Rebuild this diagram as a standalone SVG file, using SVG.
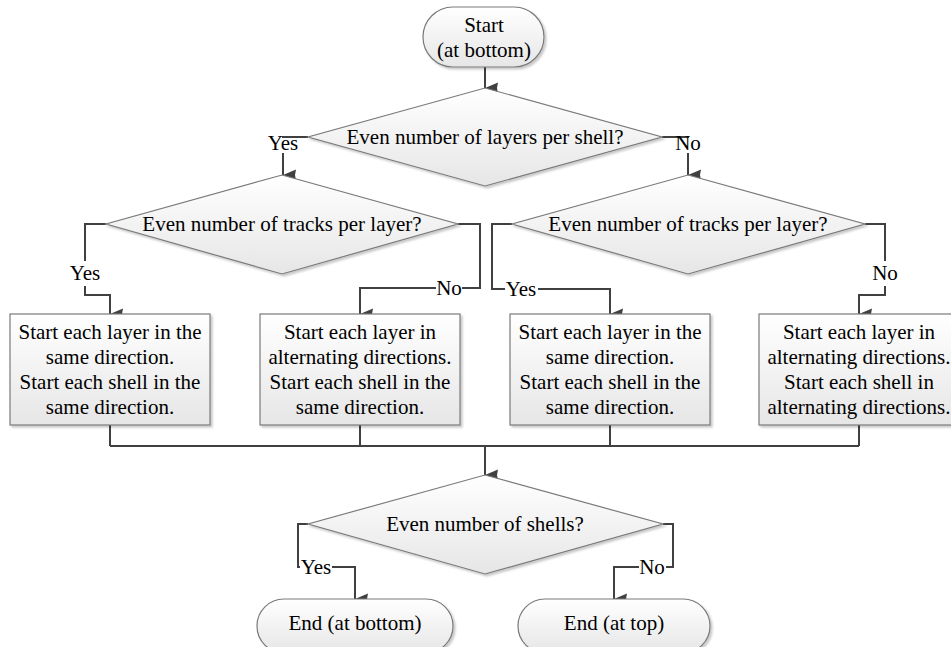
<svg xmlns="http://www.w3.org/2000/svg" width="951" height="647" viewBox="0 0 951 647">
<defs>
<linearGradient id="g" x1="0" y1="0" x2="0" y2="1">
<stop offset="0" stop-color="#ffffff"/>
<stop offset="1" stop-color="#e6e6e6"/>
</linearGradient>
<filter id="sh" x="-5%" y="-5%" width="115%" height="120%">
<feDropShadow dx="2" dy="2" stdDeviation="1.2" flood-color="#000" flood-opacity="0.22"/>
</filter>
<marker id="ah" markerUnits="userSpaceOnUse" markerWidth="12" markerHeight="14" refX="6" refY="13" orient="auto-start-reverse" viewBox="0 0 12 14">
<path d="M0.5,0 L6,13 L11.5,0 L6,1 Z" fill="#404040"/>
</marker>
</defs>
<style>
.s{fill:url(#g);stroke:#7a7a7a;stroke-width:1.2;filter:url(#sh)}
.t{font-family:'Liberation Serif','Times New Roman',serif;font-size:21px;fill:#000;text-anchor:middle}
.c{fill:none;stroke:#404040;stroke-width:2}
.a{marker-end:url(#ah)}
.lb{fill:#fff}
</style>
<rect width="951" height="647" fill="#fff"/>

<g id="connectors">
<path class="c a" d="M485,67 V88"/>
<path class="c a" d="M308,137 H283 V175"/>
<path class="c a" d="M662,137 H688 V175"/>
<path class="c a" d="M106,224 H85 V295 H110 V314"/>
<path class="c a" d="M458,224 H480 V288 H360 V314"/>
<path class="c a" d="M512,224 H492 V289 H610 V314"/>
<path class="c a" d="M865,224 H885 V295 H859 V314"/>
<path class="c" d="M110,425 V446 M360,425 V446 M610,425 V446 M859,425 V446 M110,446 H859"/>
<path class="c a" d="M485,446 V475"/>
<path class="c a" d="M308,524 H298 V567 H355 V599"/>
<path class="c a" d="M663,524 H673 V567 H614 V599"/>
<g id="labels">
<rect class="lb" x="266" y="138" width="34" height="15"/>
<text class="t" x="283" y="150">Yes</text>
<rect class="lb" x="675" y="138" width="26" height="15"/>
<text class="t" x="688" y="150">No</text>
<rect class="lb" x="68" y="261" width="34" height="25"/>
<text class="t" x="85" y="280">Yes</text>
<rect class="lb" x="436" y="280" width="26" height="18"/>
<text class="t" x="449" y="295">No</text>
<rect class="lb" x="505" y="281" width="33" height="18"/>
<text class="t" x="521" y="296">Yes</text>
<rect class="lb" x="872" y="261" width="26" height="25"/>
<text class="t" x="885" y="280">No</text>
<rect class="lb" x="300" y="559" width="32" height="18"/>
<text class="t" x="316" y="574">Yes</text>
<rect class="lb" x="639" y="559" width="27" height="18"/>
<text class="t" x="652" y="574">No</text>
</g>
</g>

<g id="start">
<rect class="s" x="423" y="7" width="121" height="60" rx="30" ry="30"/>
<text class="t" x="484" y="32">Start</text>
<text class="t" x="484" y="57">(at bottom)</text>
</g>

<g id="d1">
<polygon class="s" points="485,88 662,137 485,186 308,137"/>
<text class="t" x="485" y="144">Even number of layers per shell?</text>
</g>

<g id="d2">
<polygon class="s" points="282,175 458,224 282,274 106,224"/>
<text class="t" x="282" y="231">Even number of tracks per layer?</text>
</g>

<g id="d3">
<polygon class="s" points="688,175 865,224 688,274 512,224"/>
<text class="t" x="688" y="231">Even number of tracks per layer?</text>
</g>

<g id="b1">
<rect class="s" x="10" y="314" width="200" height="111"/>
<text class="t" x="110" y="339">Start each layer in the</text>
<text class="t" x="110" y="364">same direction.</text>
<text class="t" x="110" y="389">Start each shell in the</text>
<text class="t" x="110" y="414">same direction.</text>
</g>

<g id="b2">
<rect class="s" x="260" y="314" width="200" height="111"/>
<text class="t" x="360" y="339">Start each layer in</text>
<text class="t" x="360" y="364">alternating directions.</text>
<text class="t" x="360" y="389">Start each shell in the</text>
<text class="t" x="360" y="414">same direction.</text>
</g>

<g id="b3">
<rect class="s" x="510" y="314" width="200" height="111"/>
<text class="t" x="610" y="339">Start each layer in the</text>
<text class="t" x="610" y="364">same direction.</text>
<text class="t" x="610" y="389">Start each shell in the</text>
<text class="t" x="610" y="414">same direction.</text>
</g>

<g id="b4">
<rect class="s" x="759" y="314" width="200" height="111"/>
<text class="t" x="859" y="339">Start each layer in</text>
<text class="t" x="859" y="364">alternating directions.</text>
<text class="t" x="859" y="389">Start each shell in</text>
<text class="t" x="859" y="414">alternating directions.</text>
</g>

<g id="d4">
<polygon class="s" points="485,475 663,524 485,574 308,524"/>
<text class="t" x="485" y="531">Even number of shells?</text>
</g>

<g id="end1">
<rect class="s" x="257" y="599" width="196" height="54" rx="27" ry="27"/>
<text class="t" x="355" y="630">End (at bottom)</text>
</g>

<g id="end2">
<rect class="s" x="518" y="599" width="192" height="54" rx="27" ry="27"/>
<text class="t" x="614" y="630">End (at top)</text>
</g>
</svg>
